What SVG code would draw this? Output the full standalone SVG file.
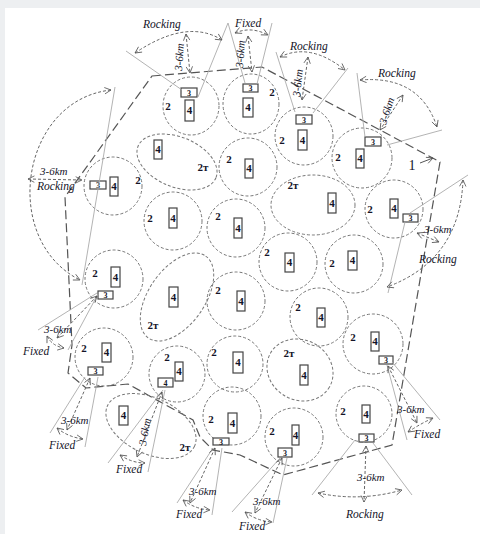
<svg xmlns="http://www.w3.org/2000/svg" width="480" height="534" viewBox="0 0 480 534">
<defs>
<marker id="a" viewBox="0 0 10 10" refX="9" refY="5" markerWidth="8" markerHeight="8" orient="auto-start-reverse" markerUnits="userSpaceOnUse"><path d="M1,1 L9,5 L1,9" fill="none" stroke="#555" stroke-width="1"/></marker>
<style>
.cell{fill:none;stroke:#777;stroke-width:1;stroke-dasharray:3 2}
.poly{fill:none;stroke:#555;stroke-width:1.2;stroke-dasharray:9 4}
.sec{stroke:#aaa;stroke-width:0.9;fill:none}
.arc{fill:none;stroke:#666;stroke-width:1;stroke-dasharray:3 2;marker-start:url(#a);marker-end:url(#a)}
.box{fill:#fff;stroke:#444;stroke-width:1.2}
.n{font-family:"Liberation Serif",serif;font-weight:bold;fill:#141428;font-size:11px;text-anchor:middle}
.s{font-family:"Liberation Serif",serif;font-weight:bold;fill:#141428;font-size:8px;text-anchor:middle}
.lbl{font-family:"Liberation Serif",serif;font-style:italic;fill:#141428;font-size:11.5px}
.km{font-family:"Liberation Serif",serif;font-style:italic;fill:#141428;font-size:11px}
</style>
</defs>
<rect width="480" height="534" fill="#edeff1"/>
<rect x="5" y="8" width="475" height="526" fill="#fff"/>

<g id="cluster-boundary">
<path class="poly" d="M152,76 L262,67 L440,162 L392,445 L283,475 L240,455 L213,450 L200,437 L193,420 L128,384 L86,388 L68,373 L72,345 L65,197 Z"/>
<text x="412" y="170" font-family="Liberation Serif,serif" font-size="14" fill="#141428" text-anchor="middle">1</text>
<line x1="420" y1="163" x2="433" y2="158" stroke="#555" marker-end="url(#a)"/>
</g>

<g id="cellA"><ellipse class="cell" cx="191" cy="106" rx="28" ry="29"/><text class="n" x="168" y="110">2</text><rect class="box" x="181" y="88" width="16" height="9"/><text class="s" x="189" y="95.5">3</text><rect class="box" x="185" y="100" width="9" height="21"/><text class="n" x="189.5" y="114">4</text></g>
<g id="cellB"><ellipse class="cell" cx="251" cy="104" rx="28" ry="30"/><text class="n" x="272" y="96">2</text><rect class="box" x="243" y="84" width="15" height="8"/><text class="s" x="250.5" y="91">3</text><rect class="box" x="243" y="98" width="10" height="19"/><text class="n" x="248" y="111">4</text></g>
<g id="cellC"><ellipse class="cell" cx="304" cy="136" rx="29" ry="29"/><text class="n" x="282" y="144">2</text><rect class="box" x="296" y="115" width="16" height="9"/><text class="s" x="304" y="122.5">3</text><rect class="box" x="298" y="130" width="9" height="20"/><text class="n" x="302.5" y="144">4</text></g>
<g id="cellD"><ellipse class="cell" cx="362" cy="158" rx="30" ry="30"/><text class="n" x="338" y="161">2</text><rect class="box" x="365" y="137" width="16" height="9"/><text class="s" x="373" y="144.5">3</text><rect class="box" x="356" y="149" width="8" height="19"/><text class="n" x="360" y="162">4</text></g>
<g id="cellE"><ellipse class="cell" cx="113" cy="186" rx="29" ry="29"/><text class="n" x="138" y="184">2</text><rect class="box" x="90" y="181" width="16" height="8"/><text class="s" x="98" y="188">3</text><rect class="box" x="110" y="177" width="8" height="19"/><text class="n" x="114" y="190">4</text></g>
<g id="cellF"><ellipse class="cell" cx="177" cy="162" rx="42" ry="25" transform="rotate(22 177 162)"/><rect class="box" x="154" y="140" width="8" height="19"/><text class="n" x="158" y="153">4</text><text class="n" x="203" y="171">2т</text></g>
<g id="cellG"><ellipse class="cell" cx="248" cy="167" rx="29" ry="29"/><text class="n" x="229" y="163">2</text><rect class="box" x="245" y="159" width="8" height="19"/><text class="n" x="249" y="172">4</text></g>
<g id="cellH"><ellipse class="cell" cx="313" cy="205" rx="42" ry="30"/><text class="n" x="293" y="189">2т</text><rect class="box" x="328" y="193" width="8" height="20"/><text class="n" x="332" y="207">4</text></g>
<g id="cellI"><ellipse class="cell" cx="394" cy="209" rx="29" ry="29"/><text class="n" x="370" y="213">2</text><rect class="box" x="390" y="199" width="8" height="19"/><text class="n" x="394" y="212">4</text><rect class="box" x="403" y="214" width="15" height="8"/><text class="s" x="410.5" y="221">3</text></g>
<g id="cellJ"><ellipse class="cell" cx="173" cy="221" rx="29" ry="29"/><text class="n" x="150" y="222">2</text><rect class="box" x="169" y="208" width="8" height="20"/><text class="n" x="173" y="222">4</text></g>
<g id="cellK"><ellipse class="cell" cx="236" cy="228" rx="29" ry="29"/><text class="n" x="218" y="220">2</text><rect class="box" x="234" y="218" width="8" height="20"/><text class="n" x="238" y="232">4</text></g>
<g id="cellL"><ellipse class="cell" cx="288" cy="262" rx="29" ry="29"/><text class="n" x="267" y="256">2</text><rect class="box" x="285" y="253" width="9" height="19"/><text class="n" x="289.5" y="266">4</text></g>
<g id="cellM"><ellipse class="cell" cx="354" cy="264" rx="29" ry="29"/><text class="n" x="332" y="267">2</text><rect class="box" x="348" y="251" width="9" height="19"/><text class="n" x="352.5" y="264">4</text></g>
<g id="cellN"><ellipse class="cell" cx="114" cy="279" rx="29" ry="29"/><text class="n" x="95" y="277">2</text><rect class="box" x="111" y="267" width="9" height="20"/><text class="n" x="115.5" y="281">4</text><rect class="box" x="98" y="291" width="15" height="8"/><text class="s" x="105.5" y="298">3</text></g>
<g id="cellO"><ellipse class="cell" cx="177" cy="297" rx="50" ry="28" transform="rotate(-55 177 297)"/><rect class="box" x="169" y="287" width="9" height="20"/><text class="n" x="173.5" y="301">4</text><text class="n" x="153" y="329">2т</text></g>
<g id="cellP"><ellipse class="cell" cx="236" cy="301" rx="29" ry="29"/><text class="n" x="218" y="294">2</text><rect class="box" x="237" y="291" width="8" height="20"/><text class="n" x="241" y="305">4</text></g>
<g id="cellQ"><ellipse class="cell" cx="319" cy="317" rx="29" ry="29"/><text class="n" x="298" y="311">2</text><rect class="box" x="317" y="308" width="8" height="19"/><text class="n" x="321" y="321">4</text></g>
<g id="cellR"><ellipse class="cell" cx="373" cy="344" rx="30" ry="30"/><text class="n" x="353" y="341">2</text><rect class="box" x="371" y="332" width="8" height="19"/><text class="n" x="375" y="345">4</text><rect class="box" x="379" y="356" width="14" height="8"/><text class="s" x="386" y="363">3</text></g>
<g id="cellS"><ellipse class="cell" cx="104" cy="357" rx="29" ry="29"/><text class="n" x="84" y="352">2</text><rect class="box" x="102" y="343" width="9" height="19"/><text class="n" x="106.5" y="356">4</text><rect class="box" x="88" y="367" width="15" height="8"/><text class="s" x="95.5" y="374">3</text></g>
<g id="cellT"><ellipse class="cell" cx="177" cy="374" rx="28" ry="28"/><text class="n" x="167" y="361">2</text><rect class="box" x="175" y="362" width="8" height="19"/><text class="n" x="179" y="375">4</text><rect class="box" x="158" y="378" width="15" height="9"/><text class="s" x="165.5" y="385.5">4</text></g>
<g id="cellU"><ellipse class="cell" cx="235" cy="364" rx="28" ry="28"/><text class="n" x="214" y="356">2</text><rect class="box" x="233" y="352" width="10" height="21"/><text class="n" x="238" y="366">4</text></g>
<g id="cellV"><ellipse class="cell" cx="300" cy="370" rx="34" ry="30" transform="rotate(30 300 370)"/><text class="n" x="289" y="357">2т</text><rect class="box" x="300" y="365" width="8" height="20"/><text class="n" x="304" y="379">4</text></g>
<g id="cellX"><ellipse class="cell" cx="364" cy="414" rx="28" ry="28"/><text class="n" x="343" y="415">2</text><rect class="box" x="362" y="405" width="8" height="18"/><text class="n" x="366" y="418">4</text><rect class="box" x="359" y="434" width="15" height="8"/><text class="s" x="366.5" y="441">3</text></g>
<g id="cellY"><ellipse class="cell" cx="294" cy="437" rx="29" ry="29"/><text class="n" x="272" y="435">2</text><rect class="box" x="292" y="425" width="7" height="20"/><text class="n" x="295.5" y="439">4</text><rect class="box" x="278" y="448" width="14" height="9"/><text class="s" x="285" y="455.5">3</text></g>
<g id="cellZ"><ellipse class="cell" cx="232" cy="416" rx="29" ry="29"/><text class="n" x="211" y="423">2</text><rect class="box" x="228" y="413" width="9" height="20"/><text class="n" x="232.5" y="427">4</text><rect class="box" x="213" y="438" width="16" height="7"/><text class="s" x="221" y="444.5">3</text></g>
<g id="cellAA"><ellipse class="cell" cx="151" cy="426" rx="48" ry="28" transform="rotate(25 151 426)"/><rect class="box" x="119" y="406" width="9" height="19"/><text class="n" x="123.5" y="419">4</text><text class="n" x="185" y="451">2т</text></g>

<g id="connectors">
<line class="sec" x1="126" y1="51" x2="182" y2="90"/><line class="sec" x1="228" y1="23" x2="198" y2="97"/>
<path class="arc" d="M135,53 Q187,18 222,40"/>
<path class="arc" d="M186,34 L190,73"/>
<text class="lbl" x="143" y="28">Rocking</text>
<text class="km" transform="translate(182,71) rotate(-86)">3-6km</text>

<line class="sec" x1="228" y1="23" x2="245" y2="83"/><line class="sec" x1="272" y1="23" x2="257" y2="84"/>
<path class="arc" d="M235,33 Q251,26 268,35"/>
<path class="arc" d="M248,36 L252,72"/>
<text class="lbl" x="235" y="27">Fixed</text>
<text class="km" transform="translate(243,68) rotate(-86)">3-6km</text>

<line class="sec" x1="276" y1="52" x2="295" y2="112"/><line class="sec" x1="348" y1="68" x2="313" y2="113"/>
<path class="arc" d="M280,57 Q310,42 345,70"/>
<path class="arc" d="M308,57 L302,100"/>
<text class="lbl" x="290" y="50">Rocking</text>
<text class="km" transform="translate(300,97) rotate(-84)">3-6km</text>

<line class="sec" x1="357" y1="73" x2="365" y2="137"/><line class="sec" x1="387" y1="145" x2="442" y2="130"/>
<path class="arc" d="M360,80 Q420,75 437,127"/>
<path class="arc" d="M403,95 L380,130"/>
<text class="lbl" x="378" y="77">Rocking</text>
<text class="km" transform="translate(386,125) rotate(-72)">3-6km</text>

<line class="sec" x1="115" y1="87" x2="82" y2="285"/>
<path class="arc" d="M111,90 C20,100 0,240 80,280"/>
<path class="arc" d="M28,179 L82,180"/>
<text class="km" x="40" y="175">3-6km</text>
<text class="lbl" x="37" y="190">Rocking</text>

<line class="sec" x1="97" y1="293" x2="38" y2="330"/><line class="sec" x1="98" y1="294" x2="68" y2="350"/>
<path class="arc" d="M97,296 L57,338"/>
<path class="arc" d="M47,336 Q52,346 64,348"/>
<text class="km" x="44" y="333">3-6km</text>
<text class="lbl" x="23" y="355">Fixed</text>

<line class="sec" x1="85" y1="377" x2="50" y2="433"/><line class="sec" x1="98" y1="377" x2="85" y2="447"/>
<path class="arc" d="M90,378 L67,430"/>
<path class="arc" d="M57,428 Q68,437 83,439"/>
<text class="km" x="61" y="424">3-6km</text>
<text class="lbl" x="49" y="449">Fixed</text>

<line class="sec" x1="163" y1="390" x2="108" y2="463"/><line class="sec" x1="165" y1="390" x2="148" y2="472"/>
<path class="arc" d="M162,392 L137,457"/>
<path class="arc" d="M120,455 Q132,463 145,463"/>
<text class="km" transform="translate(146,446) rotate(-80)">3-6km</text>
<text class="lbl" x="116" y="473">Fixed</text>

<line class="sec" x1="213" y1="448" x2="177" y2="503"/><line class="sec" x1="222" y1="448" x2="212" y2="515"/>
<path class="arc" d="M215,448 L190,503"/>
<path class="arc" d="M183,500 Q195,509 210,510"/>
<text class="km" x="189" y="495">3-6km</text>
<text class="lbl" x="176" y="518">Fixed</text>

<line class="sec" x1="280" y1="458" x2="232" y2="512"/><line class="sec" x1="287" y1="458" x2="273" y2="523"/>
<path class="arc" d="M282,458 L255,513"/>
<path class="arc" d="M245,512 Q257,521 272,522"/>
<text class="km" x="253" y="505">3-6km</text>
<text class="lbl" x="239" y="530">Fixed</text>

<line class="sec" x1="355" y1="440" x2="312" y2="495"/><line class="sec" x1="373" y1="443" x2="412" y2="495"/>
<path class="arc" d="M366,446 L364,502"/>
<path class="arc" d="M318,493 Q360,502 402,490"/>
<text class="km" x="357" y="481">3-6km</text>
<text class="lbl" x="346" y="518">Rocking</text>

<line class="sec" x1="387" y1="365" x2="407" y2="440"/><line class="sec" x1="392" y1="362" x2="440" y2="420"/>
<path class="arc" d="M388,366 L417,423"/>
<path class="arc" d="M408,432 Q420,424 433,418"/>
<text class="km" x="397" y="413">3-6km</text>
<text class="lbl" x="414" y="438">Fixed</text>

<line class="sec" x1="410" y1="213" x2="468" y2="175"/><line class="sec" x1="405" y1="222" x2="388" y2="293"/>
<path class="arc" d="M463,180 Q460,260 387,287"/>
<path class="arc" d="M417,233 L439,242"/>
<text class="km" x="424" y="233">3-6km</text>
<text class="lbl" x="419" y="263">Rocking</text>
</g>
</svg>
